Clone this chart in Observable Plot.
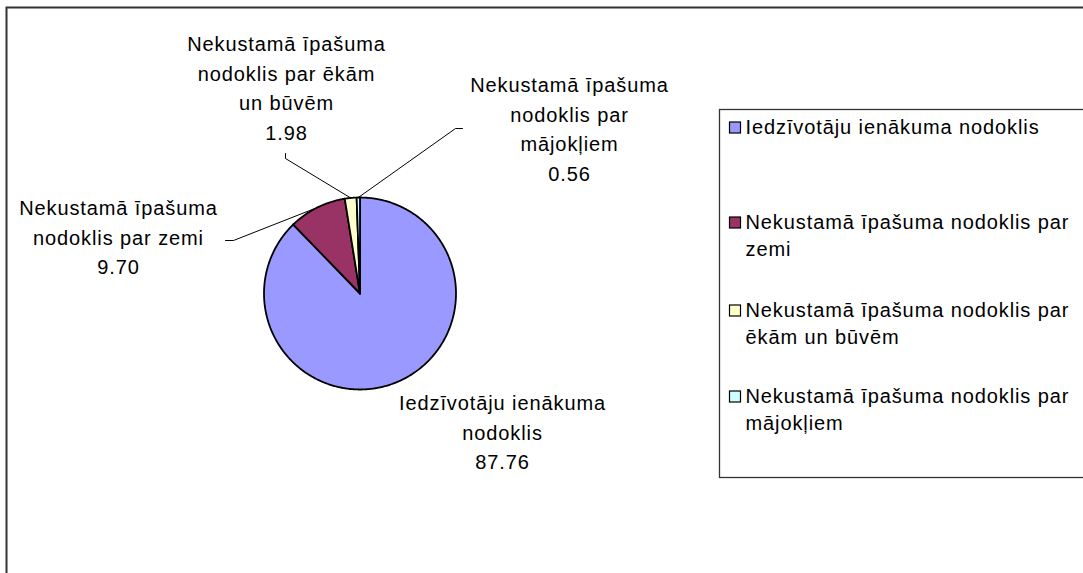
<!DOCTYPE html>
<html><head><meta charset="utf-8">
<script src="https://cdn.jsdelivr.net/npm/d3@7"></script>
<script src="https://cdn.jsdelivr.net/npm/@observablehq/plot@0.6"></script>
<style>
html,body{margin:0;padding:0;background:#fff;overflow:hidden;}
#chart svg{display:block;}
#chart svg text{letter-spacing:0.9px;}
</style></head><body><div id="chart"></div>
<script>
// ---- data ----
const categories = [
  "Iedzīvotāju ienākuma nodoklis",
  "Nekustamā īpašuma nodoklis par zemi",
  "Nekustamā īpašuma nodoklis par ēkām un būvēm",
  "Nekustamā īpašuma nodoklis par mājokļiem"
];
const values = [87.76, 9.70, 1.98, 0.56];
const valueLabels = ["87.76", "9.70", "1.98", "0.56"];
const sliceLabelLines = [
  ["Iedzīvotāju ienākuma", "nodoklis"],
  ["Nekustamā īpašuma", "nodoklis par zemi"],
  ["Nekustamā īpašuma", "nodoklis par ēkām", "un būvēm"],
  ["Nekustamā īpašuma", "nodoklis par", "mājokļiem"]
];
const legendLines = [
  ["Iedzīvotāju ienākuma nodoklis"],
  ["Nekustamā īpašuma nodoklis par", "zemi"],
  ["Nekustamā īpašuma nodoklis par", "ēkām un būvēm"],
  ["Nekustamā īpašuma nodoklis par", "mājokļiem"]
];
const colors = ["#9999FF", "#993366", "#FFFFCC", "#CCFFFF"];

// ---- layout ----
const W = 1083, H = 573;
const cx = 359.5, cy = 293, R = 96;
const FS = 20;
const labelPos = [
  {x: 502, y: 410}, {x: 118, y: 215}, {x: 286, y: 51}, {x: 569, y: 92}
]; // baseline of first line
const labelLH = 29.5;
const leaderStart = [null, [[225, 240], [233, 240]], [[285, 153], [285, 158]], [[462, 128], [455, 128]]];
const legendBox = {x1: 719.5, y1: 109.5, x2: W + 20, y2: 477.5};
const legendBase = [134, 229, 317, 403];
const legendLH = 26.5;
const frameBox = {x1: 6.5, y1: 7.5, x2: W + 20, y2: H + 20};

// ---- geometry from data ----
const arcs = d3.pie().sort(null).value(d => d)(values);
const polar = (a, r = R) => [cx + r * Math.sin(a), cy - r * Math.cos(a)];
const slices = arcs.map(a => {
  const span = a.endAngle - a.startAngle;
  const n = Math.max(2, Math.ceil(span / Math.PI * 360));
  const pts = [[cx, cy]];
  for (let k = 0; k <= n; k++) pts.push(polar(a.startAngle + span * k / n));
  pts.push([cx, cy]);
  return pts;
});
const leaders = arcs.map((a, i) => leaderStart[i] ? [...leaderStart[i], polar((a.startAngle + a.endAngle) / 2)] : null);

// Plot offsets the first line of a top-anchored block by 0.71 * lineHeight
const labelData = categories.map((c, i) => ({
  text: [...sliceLabelLines[i], valueLabels[i]].join("\n"),
  x: labelPos[i].x, y: labelPos[i].y - 0.71 * labelLH
}));
const legendData = categories.map((c, i) => ({
  text: legendLines[i].join("\n"),
  base: legendBase[i], color: colors[i]
}));

const font = "'Liberation Sans', Arial, sans-serif";
const marks = [
  Plot.rect([frameBox], {x1: "x1", y1: "y1", x2: "x2", y2: "y2", fill: "none", stroke: "#333", strokeWidth: 2}),
  ...slices.map((pts, i) => Plot.line(pts, {x: d => d[0], y: d => d[1], fill: colors[i], stroke: "#000", strokeWidth: 1.8, strokeLinejoin: "round"})),
  ...leaders.filter(Boolean).map(pts => Plot.line(pts, {x: d => d[0], y: d => d[1], stroke: "#000", strokeWidth: 1})),
  Plot.text(labelData, {x: "x", y: "y", text: "text", textAnchor: "middle", lineAnchor: "top", lineHeight: labelLH / FS, fontSize: FS, fontFamily: font, fill: "#000"}),
  Plot.rect([legendBox], {x1: "x1", y1: "y1", x2: "x2", y2: "y2", fill: "none", stroke: "#333", strokeWidth: 1.3}),
  Plot.rect(legendData, {x1: () => 729.5, x2: () => 740.5, y1: d => d.base - 12, y2: d => d.base - 1, fill: "color", stroke: "#000", strokeWidth: 1.2}),
  Plot.text(legendData, {x: () => 745, y: d => d.base - 0.71 * legendLH, text: "text", textAnchor: "start", lineAnchor: "top", lineHeight: legendLH / FS, fontSize: FS, fontFamily: font, fill: "#000"})
];

const chart = Plot.plot({
  width: W, height: H, margin: 0,
  x: {domain: [0, W], range: [0, W], axis: null},
  y: {domain: [0, H], range: [0, H], axis: null},
  color: {type: "identity"},
  style: {background: "#fff"},
  marks
});
document.getElementById("chart").append(chart);
</script></body></html>
